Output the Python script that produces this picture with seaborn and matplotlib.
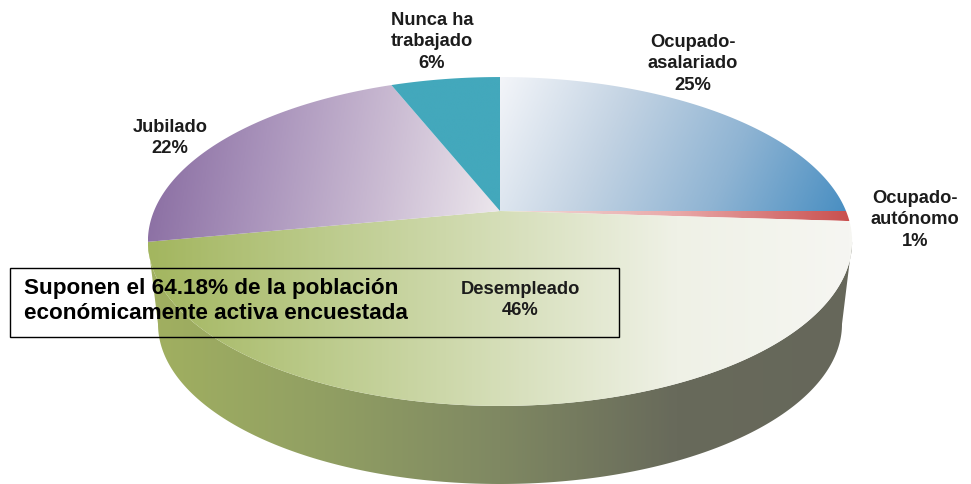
"""Encuesta: situacion laboral, pastel en perspectiva."""
import matplotlib
matplotlib.use("Agg")
import matplotlib.pyplot as plt
from matplotlib.patches import Polygon, Rectangle
import numpy as np
import seaborn as sns

categories = ["Ocupado-\nasalariado", "Ocupado-\nautónomo", "Desempleado", "Jubilado", "Nunca ha\ntrabajado"]
values = [25, 1, 46, 22, 6]
note = "Suponen el 64.18% de la población\neconómicamente activa encuestada"

# gradient stops per slice, and the direction (degrees) the gradient runs in
slice_colors = [
    ["#f3f5f9", "#c3d3e3", "#8fb4d3", "#4a8fc2"],
    ["#f0dcdc", "#e9a9a9", "#c9504f"],
    ["#a3b65f", "#bccb8c", "#d5deb8", "#eff1e6", "#f6f6f2"],
    ["#86699f", "#a993bb", "#cbbcd3", "#eee9ee"],
    ["#43a8bc", "#43a8bc"],
]
slice_angles = [25, 0, 0, 10, 0]
wall_colors = ["#a1b060", "#919f63", "#7f8862", "#686a5b", "#66675a"]

label_xy = [(693, 64), (915, 220), (520, 300), (170, 138), (432, 42)]

# pie geometry in pixels
APEX = (500, 212)
HALF_W, HALF_H, PERSP = 346, 158.8, 0.1854
LOWER = (500, 325, 342, 160)

sns.set_theme(style="white")
plt.rcParams["font.family"] = ["Liberation Sans", "DejaVu Sans"]


def project(frac):
    """Map pie fractions (clockwise from the top) onto the tilted disc."""
    t = 2 * np.pi * np.asarray(frac)
    w = 1 + PERSP * np.cos(t)
    return APEX[0] + HALF_W * np.sin(t) / w, APEX[1] - HALF_H * np.cos(t) / w


def gradient_fill(ax, verts, colors, angle=0):
    """Fill a polygon with a linear gradient clipped to its outline."""
    x0, y0 = verts.min(axis=0)
    x1, y1 = verts.max(axis=0)
    xx, yy = np.meshgrid(np.linspace(x0, x1, 300), np.linspace(y0, y1, 200))
    a = np.deg2rad(angle)
    t = xx * np.cos(a) + yy * np.sin(a)
    cmap = sns.blend_palette(colors, as_cmap=True)
    im = ax.imshow(t, extent=(x0, x1, y1, y0), cmap=cmap, aspect="auto",
                   interpolation="bilinear", zorder=2)
    clip = Polygon(verts, closed=True, transform=ax.transData, fc="none", ec="none")
    ax.add_patch(clip)
    im.set_clip_path(clip)


fig = plt.figure(figsize=(9.71, 4.85), dpi=100)
ax = fig.add_axes([0, 0, 1, 1])

# side wall: front half of the disc down to the lower ellipse
front = np.linspace(0.28, 0.72, 200)
tx, ty = project(front)
s = np.linspace(0, np.pi, 200)
lx = LOWER[0] - LOWER[2] * np.cos(s)
ly = LOWER[1] + LOWER[3] * np.sin(s)
wall = np.vstack([np.column_stack([tx, ty]), np.column_stack([lx, ly])])
gradient_fill(ax, wall, wall_colors)

# slices from the values
edges = np.concatenate([[0], np.cumsum(values)]) / np.sum(values)
for i, color in enumerate(slice_colors):
    f = np.linspace(edges[i], edges[i + 1], 120)
    px, py = project(f)
    verts = np.vstack([[APEX], np.column_stack([px, py])])
    gradient_fill(ax, verts, color, slice_angles[i])

for name, val, xy in zip(categories, values, label_xy):
    ax.text(xy[0], xy[1], f"{name}\n{val}%", ha="center", va="center",
            fontsize=13.2, fontweight="bold", color="#1c1c1c", linespacing=1.37, zorder=5)

ax.add_patch(Rectangle((9.5, 268.5), 609, 69, fc="none", ec="black", lw=1.0, zorder=4))
ax.text(24, 301, note, ha="left", va="center", fontsize=16.2, fontweight="bold",
        color="black", linespacing=1.2, zorder=5)

ax.set_xlim(0, 971)
ax.set_ylim(485, 0)
ax.axis("off")
fig.savefig("out.png", dpi=100)
plt.close(fig)
